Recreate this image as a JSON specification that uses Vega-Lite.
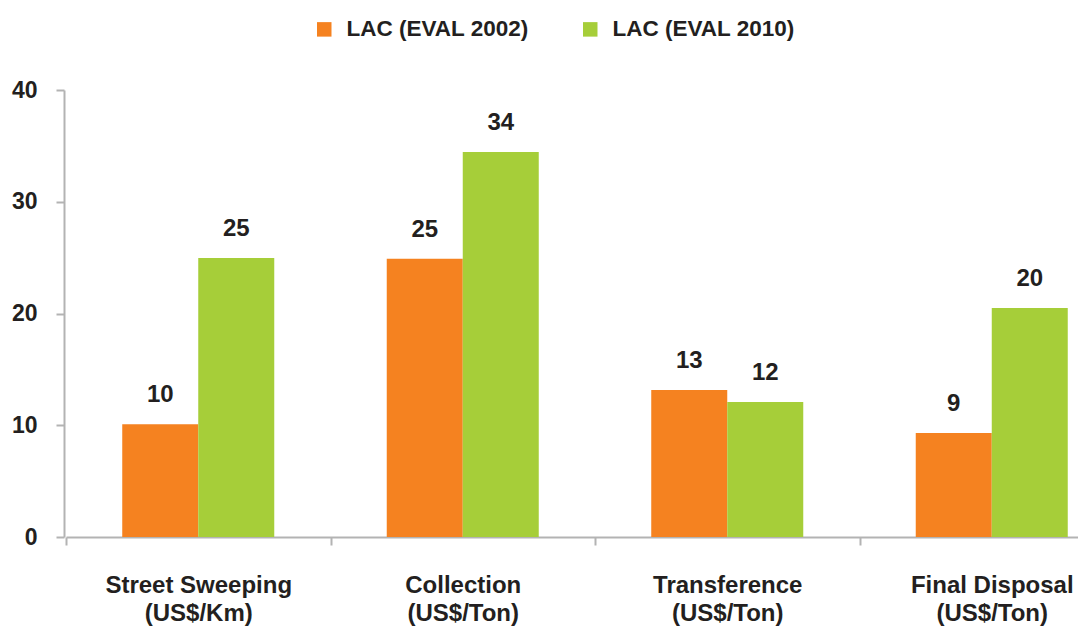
{
  "$schema": "https://vega.github.io/schema/vega-lite/v6.json",
  "autosize": {"type": "none"},
  "padding": {"left": 64, "top": 90, "right": 0, "bottom": 93},
  "width": 1014,
  "height": 447,
  "background": "white",
  "config": {
    "view": {"stroke": null},
    "font": "Liberation Sans",
    "axis": {
      "domainColor": "#b3b3b3",
      "domainWidth": 2,
      "tickColor": "#b3b3b3",
      "tickWidth": 2,
      "tickSize": 8,
      "labelFont": "Liberation Sans",
      "labelFontWeight": "bold",
      "labelColor": "#231f20",
      "grid": false,
      "title": null
    }
  },
  "data": {
    "values": [
      {"category": "Street Sweeping|(US$/Km)", "series": "LAC (EVAL 2002)", "value": 10.1, "label": "10"},
      {"category": "Street Sweeping|(US$/Km)", "series": "LAC (EVAL 2010)", "value": 24.97, "label": "25"},
      {"category": "Collection|(US$/Ton)", "series": "LAC (EVAL 2002)", "value": 24.9, "label": "25"},
      {"category": "Collection|(US$/Ton)", "series": "LAC (EVAL 2010)", "value": 34.45, "label": "34"},
      {"category": "Transference|(US$/Ton)", "series": "LAC (EVAL 2002)", "value": 13.15, "label": "13"},
      {"category": "Transference|(US$/Ton)", "series": "LAC (EVAL 2010)", "value": 12.08, "label": "12"},
      {"category": "Final Disposal|(US$/Ton)", "series": "LAC (EVAL 2002)", "value": 9.3, "label": "9"},
      {"category": "Final Disposal|(US$/Ton)", "series": "LAC (EVAL 2010)", "value": 20.5, "label": "20"}
    ]
  },
  "encoding": {
    "x": {
      "field": "category",
      "type": "nominal",
      "sort": null,
      "scale": {"range": [2, 1060], "paddingInner": 0, "paddingOuter": 0},
      "axis": {
        "tickBand": "extent",
        "labelAngle": 0,
        "labelFontSize": 24,
        "labelPadding": 28,
        "labelBaseline": "top",
        "labelLineHeight": 28.5,
        "labelLimit": 500,
        "labelExpr": "split(datum.label, '|')"
      }
    },
    "xOffset": {
      "field": "series",
      "type": "nominal",
      "sort": null,
      "scale": {"paddingInner": 0, "paddingOuter": 0.74}
    },
    "y": {
      "field": "value",
      "type": "quantitative",
      "scale": {"domain": [0, 40], "nice": false, "zero": true},
      "axis": {"values": [0, 10, 20, 30, 40], "labelFontSize": 23, "labelPadding": 19}
    }
  },
  "layer": [
    {
      "mark": {"type": "bar"},
      "encoding": {
        "color": {
          "field": "series",
          "type": "nominal",
          "sort": null,
          "scale": {"domain": ["LAC (EVAL 2002)", "LAC (EVAL 2010)"], "range": ["#f58220", "#a6ce39"]},
          "legend": {
            "orient": "none",
            "direction": "horizontal",
            "legendX": 249,
            "legendY": -72,
            "title": null,
            "symbolType": "square",
            "symbolSize": 210,
            "symbolStrokeWidth": 0,
            "symbolOpacity": 1,
            "labelFont": "Liberation Sans",
            "labelFontWeight": "bold",
            "labelFontSize": 22.5,
            "labelColor": "#231f20",
            "labelOffset": 11,
            "columnPadding": 50,
            "labelLimit": 400
          }
        }
      }
    },
    {
      "mark": {"type": "text", "baseline": "middle", "dy": -29, "fontSize": 24, "fontWeight": "bold", "font": "Liberation Sans", "color": "#231f20"},
      "encoding": {"text": {"field": "label"}}
    }
  ]
}
